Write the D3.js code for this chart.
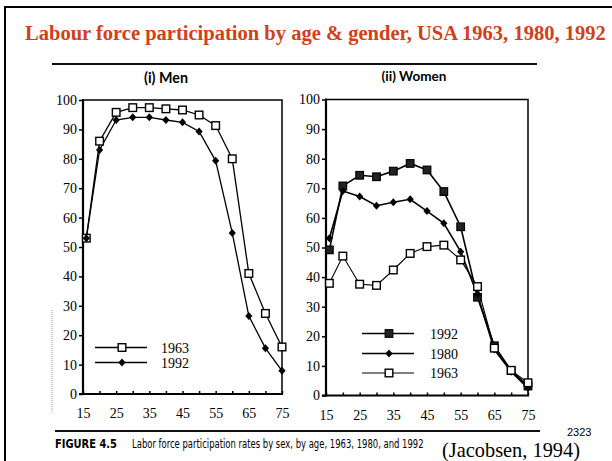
<!DOCTYPE html>
<html>
<head>
<meta charset="utf-8">
<script src="https://cdn.jsdelivr.net/npm/d3@7"></script>
<style>
  body { margin: 0; background: #fff; }
  svg { display: block; }
</style>
</head>
<body>
<script>
// data
var ages = [16, 20, 25, 30, 35, 40, 45, 50, 55, 60, 65, 70, 75];
var men1963 = [53, 86, 95.8, 97.4, 97.4, 97, 96.6, 94.9, 91.3, 80, 41, 27.4, 16];
var men1992 = [53, 83, 93.2, 94.1, 94.1, 93.2, 92.4, 89.3, 79.3, 54.8, 26.5, 15.6, 7.9];
var women1992 = [49.2, 70.8, 74.4, 73.9, 75.8, 78.4, 76.2, 68.9, 57, 33.2, 16.8, 8.4, 3.2];
var women1980 = [53.1, 69.1, 67.2, 64.1, 65.3, 66.3, 62.3, 58.2, 48.6, 34, 15.5, 8, 2.5];
var women1963 = [37.9, 47.1, 37.6, 37.2, 42.4, 48, 50.3, 50.8, 45.8, 36.8, 16, 8.5, 4.3];
var xTickLabels = [15, 25, 35, 45, 55, 65, 75];
var yTicks = [0, 10, 20, 30, 40, 50, 60, 70, 80, 90, 100];

var W = 612, H = 461;
var serif = "'Liberation Serif', 'Times New Roman', serif";
var narrow = "'Liberation Sans Narrow', 'DejaVu Sans Condensed', sans-serif";

var svg = d3.select("body").append("svg")
    .attr("width", W)
    .attr("height", H);

// shrink/grow a text's font size so it spans the wanted width
function fitWidth(sel, width) {
  var fs = parseFloat(sel.style("font-size"));
  var w = sel.node().getComputedTextLength();
  sel.style("font-size", (fs * width / w).toFixed(2) + "px");
  return sel;
}

// squeeze a text horizontally (condensed look) to the wanted width
function squeeze(sel, x, y, width) {
  var w = sel.node().getComputedTextLength();
  sel.attr("transform", "translate(" + x + "," + y + ") scale(" + (width / w).toFixed(3) + ",1)");
  return sel;
}

// slide frame
svg.append("path")
    .attr("d", "M5," + H + " V7 H" + W)
    .attr("fill", "none")
    .attr("stroke", "#000")
    .attr("stroke-width", 2);

// title
svg.append("text")
    .attr("x", 25).attr("y", 40)
    .style("font-family", serif)
    .style("font-weight", "bold")
    .style("font-size", "20px")
    .style("fill", "#d2401a")
    .text("Labour force participation by age & gender, USA 1963, 1980, 1992")
    .call(fitWidth, 581);

// rules above and below the figure
svg.append("line").attr("x1", 52).attr("x2", 537).attr("y1", 64).attr("y2", 64)
    .attr("stroke", "#111").attr("stroke-width", 2);
svg.append("line").attr("x1", 55).attr("x2", 540).attr("y1", 431).attr("y2", 431)
    .attr("stroke", "#111").attr("stroke-width", 2);

// scan artefact on the left
svg.append("line").attr("x1", 52).attr("x2", 52).attr("y1", 310).attr("y2", 413)
    .attr("stroke", "#888").attr("stroke-width", 0.8).attr("stroke-dasharray", "1,1");

// markers
function drawMarker(g, type, x, y) {
  if (type == "open") {
    g.append("rect").attr("x", x - 3.8).attr("y", y - 3.8)
      .attr("width", 7.6).attr("height", 7.6)
      .attr("fill", "#fff").attr("stroke", "#000").attr("stroke-width", 1.4);
  } else if (type == "filled") {
    g.append("rect").attr("x", x - 3.8).attr("y", y - 3.8)
      .attr("width", 7.6).attr("height", 7.6)
      .attr("fill", "#222").attr("stroke", "#000").attr("stroke-width", 1.2);
  } else {
    g.append("path")
      .attr("d", "M" + x + "," + (y - 4) + " L" + (x + 3.6) + "," + y + " L" + x + "," + (y + 4) + " L" + (x - 3.6) + "," + y + " Z")
      .attr("fill", "#000");
  }
}

function panel(opts) {
  var x = d3.scaleLinear().domain([15, 75]).range([opts.left, opts.right]);
  var y = d3.scaleLinear().domain([0, 100]).range([opts.bottom, opts.top]);
  var g = svg.append("g");

  // panel title
  g.append("text")
    .attr("x", opts.titleX).attr("y", opts.titleY)
    .attr("text-anchor", "middle")
    .style("font-family", "Lato, 'Open Sans', sans-serif")
    .style("font-weight", "bold")
    .style("font-size", "13px")
    .text(opts.title)
    .call(fitWidth, opts.titleW);

  // top and right frame
  g.append("path")
    .attr("d", "M" + opts.left + "," + opts.top + " H" + opts.right + " V" + opts.bottom)
    .attr("fill", "none").attr("stroke", "#000").attr("stroke-width", 1.5);

  // y axis
  var yAxis = g.append("g")
    .attr("transform", "translate(" + opts.left + ",0)")
    .call(d3.axisLeft(y).tickValues(yTicks).tickSize(4).tickPadding(2));
  yAxis.select(".domain").remove();
  yAxis.selectAll("line").attr("stroke-width", 1.5);
  yAxis.selectAll("text")
    .style("font-family", serif).style("font-size", "14px").style("fill", "#000");
  g.append("line").attr("x1", opts.left).attr("x2", opts.left)
    .attr("y1", opts.top - 1).attr("y2", opts.bottom + 1)
    .attr("stroke", "#000").attr("stroke-width", 2.2);

  // x axis, ticks every 5 pointing inward, labels every 10
  var xAxis = g.append("g")
    .attr("transform", "translate(0," + opts.bottom + ")")
    .call(d3.axisBottom(x).tickValues(d3.range(15, 76, 5)).tickSize(-3)
      .tickFormat(function(d) { return xTickLabels.indexOf(d) >= 0 ? d : ""; }));
  xAxis.select(".domain").remove();
  xAxis.selectAll("line").attr("stroke-width", 1.5);
  xAxis.selectAll("text")
    .attr("y", 24).attr("dy", 0)
    .style("font-family", serif).style("font-size", "14px").style("fill", "#000");
  g.append("line").attr("x1", opts.left - 4).attr("x2", opts.right + 1)
    .attr("y1", opts.bottom).attr("y2", opts.bottom)
    .attr("stroke", "#000").attr("stroke-width", 2.2);

  // series
  var line = d3.line()
    .x(function(d) { return x(d[0]); })
    .y(function(d) { return y(d[1]); });
  opts.series.forEach(function(s) {
    var pts = ages.map(function(a, i) { return [a, s.values[i]]; });
    g.append("path").datum(pts)
      .attr("d", line)
      .attr("fill", "none")
      .attr("stroke", "#000")
      .attr("stroke-width", s.width);
  });
  opts.series.forEach(function(s) {
    ages.forEach(function(a, i) {
      drawMarker(g, s.marker, x(a), y(s.values[i]));
    });
  });

  // legend
  opts.series.forEach(function(s, i) {
    var ly = opts.legendY[i];
    g.append("line")
      .attr("x1", opts.legendX).attr("x2", opts.legendX + 52)
      .attr("y1", ly).attr("y2", ly)
      .attr("stroke", "#000").attr("stroke-width", s.width);
    drawMarker(g, s.marker, opts.legendX + 27, ly);
    g.append("text")
      .attr("x", opts.legendTextX).attr("y", ly + 5)
      .style("font-family", serif).style("font-size", "14px")
      .text(s.name);
  });
}

panel({
  title: "(i) Men", titleX: 166, titleY: 83, titleW: 44,
  left: 83, right: 282, top: 100, bottom: 394,
  legendX: 95, legendTextX: 161, legendY: [347.5, 362.5],
  series: [
    {name: "1963", values: men1963, marker: "open", width: 1.3},
    {name: "1992", values: men1992, marker: "diamond", width: 1.3}
  ]
});

panel({
  title: "(ii) Women", titleX: 414, titleY: 81, titleW: 65,
  left: 326, right: 528, top: 99.5, bottom: 395.5,
  legendX: 362, legendTextX: 430, legendY: [333.5, 353.5, 373],
  series: [
    {name: "1992", values: women1992, marker: "filled", width: 1.6},
    {name: "1980", values: women1980, marker: "diamond", width: 1.6},
    {name: "1963", values: women1963, marker: "open", width: 1.1}
  ]
});

// caption, condensed like the book's typeface
svg.append("text")
  .style("font-family", narrow).style("font-weight", "bold").style("font-size", "13px")
  .text("FIGURE 4.5")
  .call(squeeze, 55, 448, 62);
svg.append("text")
  .style("font-family", narrow).style("font-size", "12.5px")
  .text("Labor force participation rates by sex, by age, 1963, 1980, and 1992")
  .call(squeeze, 132, 448, 292);

svg.append("text")
  .attr("x", 567).attr("y", 436)
  .style("font-family", "'Liberation Sans', Arial, sans-serif").style("font-size", "11px")
  .text("2323");
svg.append("text")
  .attr("x", 442).attr("y", 457)
  .style("font-family", serif).style("font-size", "19px")
  .text("(Jacobsen, 1994)")
  .call(fitWidth, 138);
</script>
</body>
</html>
